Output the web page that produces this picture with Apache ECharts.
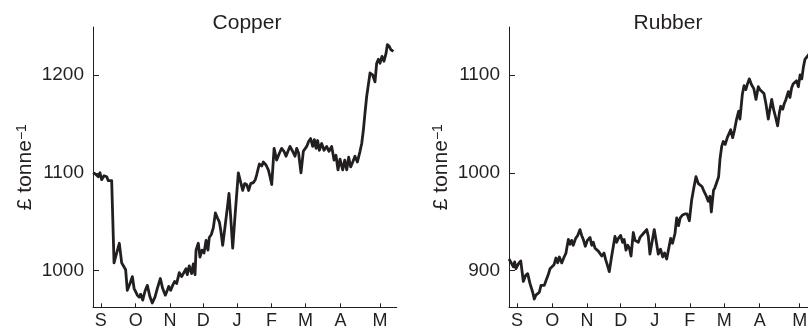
<!DOCTYPE html>
<html>
<head>
<meta charset="utf-8">
<script src="https://cdn.jsdelivr.net/npm/echarts@6/dist/echarts.min.js"></script>
<style>
  html, body { margin: 0; padding: 0; background: #fff; }
  #main { width: 808px; height: 334px; }
</style>
</head>
<body>
<div id="main"></div>
<script>
// x is in days from the start of the axis (late August)
var monthTicks = [7, 38, 68.5, 98, 128, 158.7, 189, 220, 255.2];
var monthLabels = ['S', 'O', 'N', 'D', 'J', 'F', 'M', 'A', 'M'];

var copperTicks = [1000, 1100, 1200];
var rubberTicks = [900, 1000, 1100];

var copperDays = [
  0, 1.8, 3.3, 4.7, 6.2, 7.7, 9.8, 12.2, 13.6, 15.1,
  16.6, 18.7, 21.0, 23.4, 25.5, 27.0, 29.0, 30.5, 32.9, 35.0,
  36.5, 38.2, 39.4, 41.2, 42.4, 44.2, 46.2, 48.3, 50.7, 52.7,
  55.1, 57.2, 59.9, 61.9, 64.3, 66.1, 67.3, 69.1, 70.8, 72.6,
  74.4, 76.7, 78.8, 80.3, 82.7, 83.8, 85.6, 87.7, 89.2, 90.7,
  91.6, 93.6, 95.1, 96.9, 98.7, 100.5, 102.2, 103.4, 105.2, 107.0,
  108.8, 110.6, 112.3, 113.5, 115.3, 117.6, 119.4, 120.9, 122.4, 124.2,
  126.2, 129.2, 131.6, 133.1, 134.8, 136.6, 138.4, 140.2, 142.5, 144.3,
  145.5, 147.9, 150.0, 151.4, 153.8, 155.9, 157.4, 158.9, 161.0, 163.3,
  165.7, 167.7, 169.8, 171.6, 173.7, 175.1, 177.5, 179.6, 181.1, 182.8,
  184.9, 187.0, 190.0, 191.7, 193.5, 195.3, 196.8, 198.3, 199.7, 201.2,
  203.3, 205.4, 207.7, 209.8, 212.2, 214.3, 216.0, 217.8, 219.6, 222.0,
  223.8, 225.6, 227.3, 229.1, 230.9, 232.9, 235.0, 237.4, 238.9, 240.4,
  241.8, 243.3, 244.8, 246.3, 248.6, 250.7, 252.2, 253.7, 255.2, 256.9,
  258.7, 260.5, 261.7, 263.5, 264.7, 267.1
];
var copperPrices = [
  1100, 1099, 1100, 1096, 1100, 1093, 1097, 1096, 1092, 1094,
  1092, 1008, 1018, 1028, 1008, 1005, 1001, 980, 987, 994,
  982, 980, 975, 973, 976, 970, 979, 985, 973, 967,
  973, 982, 992, 982, 975, 980, 984, 980, 985, 989,
  987, 998, 994, 996, 1002, 996, 1005, 997, 1007, 996,
  1021, 1028, 1014, 1021, 1018, 1031, 1021, 1034, 1037, 1044,
  1059, 1054, 1050, 1042, 1026, 1047, 1064, 1079, 1055, 1023,
  1055, 1100, 1089, 1082, 1089, 1088, 1082, 1089, 1090, 1093,
  1098, 1109, 1107, 1111, 1108, 1103, 1096, 1088, 1125, 1113,
  1120, 1125, 1122, 1117, 1123, 1127, 1122, 1117, 1125, 1120,
  1100, 1122, 1127, 1132, 1135, 1127, 1134, 1125, 1133, 1123,
  1130, 1123, 1127, 1122, 1127, 1113, 1118, 1103, 1114, 1103,
  1113, 1103, 1116, 1106, 1111, 1117, 1111, 1122, 1130, 1144,
  1161, 1178, 1190, 1202, 1200, 1193, 1212, 1216, 1212, 1219,
  1214, 1222, 1231, 1229, 1226, 1224
];

var rubberDays = [
  0, 2, 3.8, 5, 6.1, 8.2, 10.3, 12.6, 14.5, 16.4,
  18.4, 20.8, 22.2, 23.6, 25.1, 26.6, 28.1, 29.6, 31.0, 32.5,
  34.5, 36.0, 37.5, 39.5, 41.2, 42.7, 44.2, 46.3, 48.4, 50.0,
  52.1, 53.6, 55.0, 56.4, 58.5, 60.3, 62.3, 63.8, 65.2, 67.0,
  68.8, 71.1, 72.6, 74.0, 75.5, 77.0, 78.4, 79.9, 81.4, 83.4,
  84.9, 86.3, 88.0, 90.0, 93.0, 94.5, 96.0, 98.0, 99.7, 101.1,
  102.7, 104.2, 105.7, 107.1, 109.1, 110.6, 112.0, 113.5, 115.0, 116.4,
  117.9, 119.4, 120.9, 122.3, 123.7, 127.5, 129.5, 131.0, 133.0, 134.9,
  136.5, 138.4, 139.8, 141.9, 143.5, 145.7, 147.2, 148.8, 150.3, 152.4,
  154.3, 156.3, 158.3, 160.3, 162.3, 164.1, 166.2, 167.7, 169.4, 171.2,
  172.9, 174.9, 176.4, 177.6, 179.5, 180.8, 182.3, 184.0, 185.2, 186.7,
  188.1, 189.8, 191.6, 193.3, 194.6, 196.3, 197.8, 199.8, 201.6, 202.7,
  204.8, 206.3, 207.9, 209.1, 210.9, 212.9, 214.9, 216.8, 218.8, 220.3,
  221.7, 223.8, 225.6, 227.6, 229.0, 230.6, 232.4, 234.2, 235.8, 237.3,
  238.5, 240.3, 241.4, 243.1, 245.2, 246.6, 248.1, 249.5, 251.0, 252.4,
  254.0, 255.5, 257.0, 258.4, 259.8, 261.2, 262.5, 263.8, 265.5, 267
];
var rubberPrices = [
  912, 908, 904, 909, 902, 907, 910, 889, 895, 897,
  887, 878, 871, 875, 874, 878, 885, 887, 885, 890,
  896, 902, 900, 906, 913, 908, 914, 908, 914, 918,
  932, 927, 931, 926, 933, 936, 942, 936, 932, 925,
  931, 934, 926, 929, 923, 925, 920, 922, 915, 918,
  911, 906, 899, 914, 935, 929, 933, 936, 929, 932,
  921, 926, 923, 915, 939, 931, 933, 929, 934, 932,
  938, 937, 942, 935, 917, 942, 928, 917, 922, 914,
  918, 912, 914, 933, 928, 938, 954, 946, 954, 957,
  958, 958, 951, 972, 985, 996, 989, 991, 986, 981,
  977, 971, 976, 960, 982, 985, 983, 996, 1014, 1027,
  1032, 1029, 1036, 1034, 1044, 1036, 1043, 1055, 1063, 1055,
  1080, 1089, 1085, 1090, 1096, 1090, 1086, 1075, 1088, 1085,
  1086, 1081, 1070, 1055, 1065, 1075, 1064, 1056, 1048, 1061,
  1068, 1065, 1070, 1075, 1083, 1077, 1087, 1091, 1090, 1094,
  1088, 1100, 1096, 1108, 1116, 1114, 1120, 1119, 1124, 1121
];

var ink = '#231f20';
var font = 'Liberation Sans, Arial, Helvetica, sans-serif';

function pairs(xs, ys) {
  return xs.map(function(x, i){ return [x, ys[i]]; });
}

function xAxisFor(idx) {
  return {
    type: 'value', gridIndex: idx, min: 0, max: 270,
    splitLine: { show: false },
    axisLine: { onZero: false, lineStyle: { color: ink, width: 1 } },
    axisTick: { inside: true, length: 4, customValues: monthTicks, lineStyle: { color: ink } },
    axisLabel: {
      customValues: monthTicks, margin: 5, fontSize: 18, color: ink, fontFamily: font,
      formatter: function(v){
        var i = monthTicks.indexOf(v);
        return i >= 0 ? monthLabels[i] : '';
      }
    }
  };
}

function yAxisFor(idx, min, max, ticks) {
  return {
    type: 'value', gridIndex: idx, min: min, max: max,
    splitLine: { show: false },
    axisLine: { show: true, onZero: false, lineStyle: { color: ink, width: 1 } },
    axisTick: { show: true, inside: true, length: 6, customValues: ticks, lineStyle: { color: ink } },
    axisLabel: {
      customValues: ticks, margin: 9, fontSize: 19, color: ink, fontFamily: font,
      formatter: function(v){ return String(v); }
    },
    name: '£ tonne{sup|−1}',
    nameLocation: 'middle',
    nameRotate: 90,
    nameGap: 57,
    nameMoveOverlap: false,
    nameTextStyle: {
      fontSize: 21, color: ink, fontFamily: font,
      rich: { sup: { fontSize: 14, color: ink, fontFamily: font, verticalAlign: 'top' } }
    }
  };
}

var chart = echarts.init(document.getElementById('main'), null, { renderer: 'canvas' });
chart.setOption({
  animation: false,
  backgroundColor: '#fff',
  title: [
    { text: 'Copper', left: 242, top: 8, textAlign: 'center',
      textStyle: { fontSize: 21, fontWeight: 'normal', color: ink, fontFamily: font } },
    { text: 'Rubber', left: 663, top: 8, textAlign: 'center',
      textStyle: { fontSize: 21, fontWeight: 'normal', color: ink, fontFamily: font } }
  ],
  grid: [
    { left: 93, top: 27, width: 303.7, height: 280.3, outerBoundsMode: 'none', containLabel: false },
    { left: 509, top: 27, width: 307.6, height: 280.3, outerBoundsMode: 'none', containLabel: false }
  ],
  xAxis: [xAxisFor(0), xAxisFor(1)],
  yAxis: [
    yAxisFor(0, 962.6, 1249, copperTicks),
    yAxisFor(1, 862.6, 1149, rubberTicks)
  ],
  series: [
    { type: 'line', xAxisIndex: 0, yAxisIndex: 0, data: pairs(copperDays, copperPrices),
      showSymbol: false, lineStyle: { color: ink, width: 2.8, join: 'round' } },
    { type: 'line', xAxisIndex: 1, yAxisIndex: 1, data: pairs(rubberDays, rubberPrices),
      showSymbol: false, lineStyle: { color: ink, width: 2.8, join: 'round' } }
  ]
});
</script>
</body>
</html>
